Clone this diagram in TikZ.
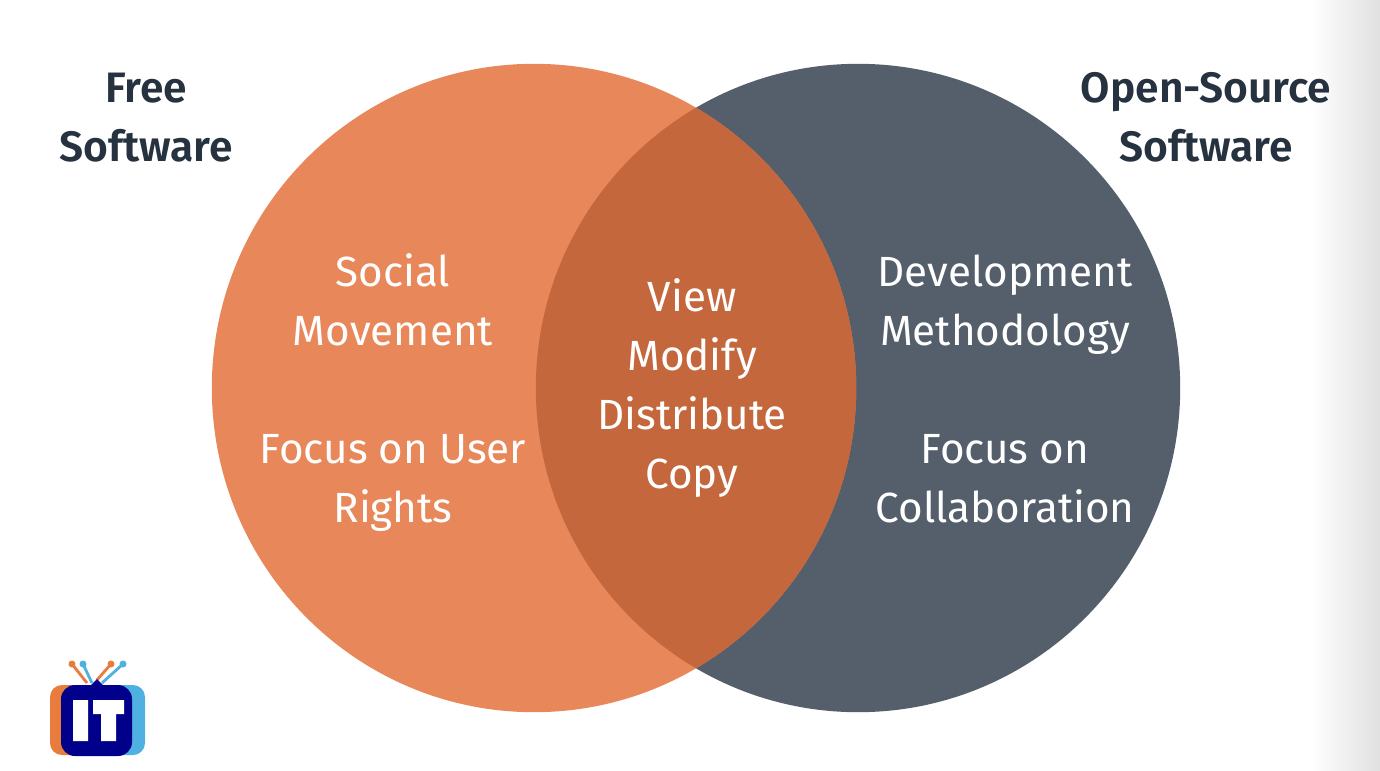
\documentclass[tikz,border=0pt]{standalone}
\usepackage{fontspec}
\setmainfont{Fira Sans}[BoldFont={Fira Sans SemiBold}]
\definecolor{orangefill}{RGB}{232,136,90}
\definecolor{slatefill}{RGB}{84,95,107}
\definecolor{overlapfill}{RGB}{196,103,61}
\definecolor{headtext}{RGB}{38,50,64}
\definecolor{logoblue}{RGB}{0,0,139}
\definecolor{logosky}{RGB}{79,176,226}
\definecolor{logoorange}{RGB}{232,124,60}
\tikzset{
  headlabel/.style={text=headtext,font=\fontsize{12.1}{16.8}\selectfont\bfseries,align=center},
  bodylabel/.style={text=white,font=\fontsize{12}{16.8}\selectfont,align=center},
  venn/.style={x radius=3.22cm,y radius=3.24cm}
}
\begin{document}
\begin{tikzpicture}[x=0.01cm,y=-0.01cm]
\useasboundingbox (0,0) rectangle (1380,770);
\fill[white] (0,0) rectangle (1380,770);
\shade[left color=white,middle color=black!3,right color=black!12] (1310,0) rectangle (1380,770);
% circles
\fill[slatefill] (858,388) ellipse [venn];
\fill[orangefill] (534,388) ellipse [venn];
\begin{scope}
\clip (534,388) ellipse [venn];
\fill[overlapfill] (858,388) ellipse [venn];
\end{scope}
% titles
\node[headlabel] (freetitle) at (146,117.5) {Free\\Software};
\node[headlabel] (opentitle) at (1206,117.5) {Open-Source\\Software};
% left side
\node[bodylabel] (social) at (393,300) {Social\\Movement};
\node[bodylabel] (rights) at (393,483) {Focus on User\\Rights};
% middle
\node[bodylabel] (shared) at (692,388) {View\\Modify\\Distribute\\Copy};
% right side
\node[bodylabel] (method) at (1005,305) {Development\\Methodology};
\node[bodylabel] (collab) at (1005,479) {Focus on\\Collaboration};
% logo
\draw[logoorange,line width=0.8pt] (72,664) -- (87,683);
\draw[logosky,line width=0.8pt] (83,664) -- (92,683);
\draw[logosky,line width=0.8pt] (123,664) -- (102,683);
\draw[logoorange,line width=0.8pt] (111,664) -- (97,680);
\fill[logoorange] (72,664) circle [radius=0.035cm] (111,664) circle [radius=0.035cm];
\fill[logosky] (83,664) circle [radius=0.035cm] (123,664) circle [radius=0.035cm];
\fill[logoorange,rounded corners=0.12cm] (50,685) rectangle (110,755);
\fill[logosky,rounded corners=0.12cm] (90,685) rectangle (145,755);
\fill[logoblue,rounded corners=0.14cm] (61,685) rectangle (132,756);
\fill[logoblue] (90,686) -- (97,679) -- (104,686) -- cycle;
\fill[white] (73,700) rectangle (88,741) (93,700) rectangle (124,714) (101,700) rectangle (116,741);
\end{tikzpicture}
\end{document}
